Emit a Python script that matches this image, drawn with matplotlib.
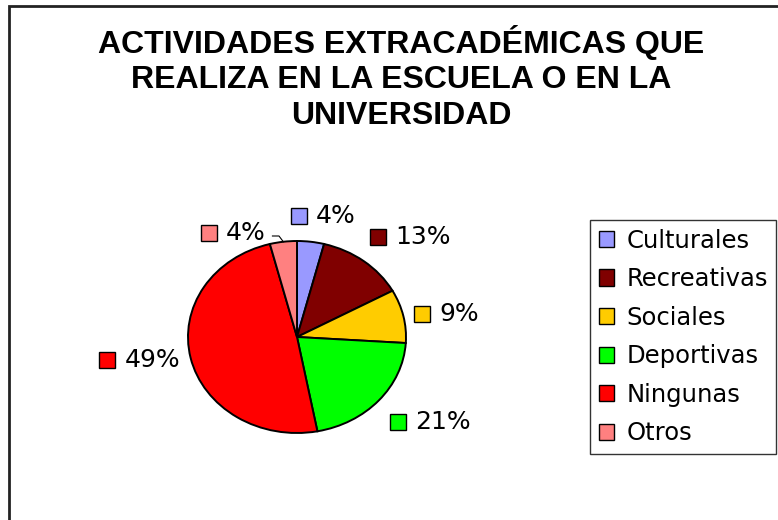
import numpy as np
import matplotlib.pyplot as plt
from matplotlib.patches import Rectangle, Patch
from matplotlib.offsetbox import DrawingArea, TextArea, HPacker, AnnotationBbox

categorias = ["Culturales", "Recreativas", "Sociales", "Deportivas", "Ningunas", "Otros"]
porcentajes = [4, 13, 9, 21, 49, 4]
colores = ["#9999FF", "#800000", "#FFCC00", "#00FF00", "#FF0000", "#FF8080"]
titulo = "ACTIVIDADES EXTRACADÉMICAS QUE\nREALIZA EN LA ESCUELA O EN LA\nUNIVERSIDAD"

W, H = 778, 520
fig = plt.figure(figsize=(W / 100, H / 100), dpi=100)
fig.patch.set_facecolor("white")

# marco del grafico (se corta por la derecha y por abajo)
fig.patches.append(Rectangle((9 / W, -0.2), 1.5, 1.2 - 6 / H, transform=fig.transFigure,
                             fill=False, edgecolor="#222222", lw=2))

fig.text(401 / W, 1 - 78 / H, titulo, ha="center", va="center", fontsize=23,
         fontweight="bold", family="Liberation Sans", linespacing=1.23)

# pastel (ligeramente estirado en horizontal como el original)
ax = fig.add_axes([188 / W, (H - 433) / H, 218 / W, 192 / H])
wedges, _ = ax.pie(porcentajes, colors=colores, startangle=90, counterclock=False,
                   wedgeprops=dict(edgecolor="black", linewidth=1.4))
ax.set_aspect("auto")
ax.set_xlim(-1, 1)
ax.set_ylim(-1, 1)
ax.axis("off")

# etiquetas de datos con su clave de color (desplazamientos en puntos)
ajustes = {0: (8, 3), 1: (0, 3.5), 3: (2, -2), 5: (-35, -9)}
for i, (w, p) in enumerate(zip(wedges, porcentajes)):
    ang = np.deg2rad((w.theta1 + w.theta2) / 2)
    x, y = np.cos(ang), np.sin(ang)
    hx = 0.0 if x > 0.3 else (1.0 if x < -0.3 else 0.5)
    vy = 0.0 if y > 0.5 else (1.0 if y < -0.5 else 0.5)
    da = DrawingArea(11.5, 11.5, 0, 0)
    da.add_artist(Rectangle((0, 0), 11.5, 11.5, facecolor=colores[i], edgecolor="black", lw=1))
    ta = TextArea("%d%%" % p, textprops=dict(fontsize=18, family="DejaVu Sans"))
    caja = HPacker(children=[da, ta], sep=6.5, align="center", pad=0)
    dx, dy = ajustes.get(i, (0, 0))
    ab = AnnotationBbox(caja, (1.1 * x, 1.1 * y), xybox=(dx, dy), xycoords="data",
                        boxcoords="offset points", box_alignment=(hx, vy),
                        frameon=False, pad=0, annotation_clip=False)
    ax.add_artist(ab)
    if i == 5:
        ax.plot([x, x - 0.04, x - 0.1], [y, y + 0.06, y + 0.06], color="black", lw=0.8,
                clip_on=False)

handles = [Patch(facecolor=c, edgecolor="black", lw=1) for c in colores]
leg = fig.legend(handles, categorias, loc="upper left", bbox_to_anchor=(590 / W, 1 - 220 / H),
                 frameon=True, fancybox=False, shadow=False, borderaxespad=0,
                 prop=dict(family="DejaVu Sans", size=17.5), handlelength=0.65,
                 handleheight=0.65, handletextpad=0.5, labelspacing=0.6, borderpad=0.35)
leg.get_frame().set_edgecolor("black")
leg.get_frame().set_linewidth(1)

fig.savefig("out.png", dpi=100)
